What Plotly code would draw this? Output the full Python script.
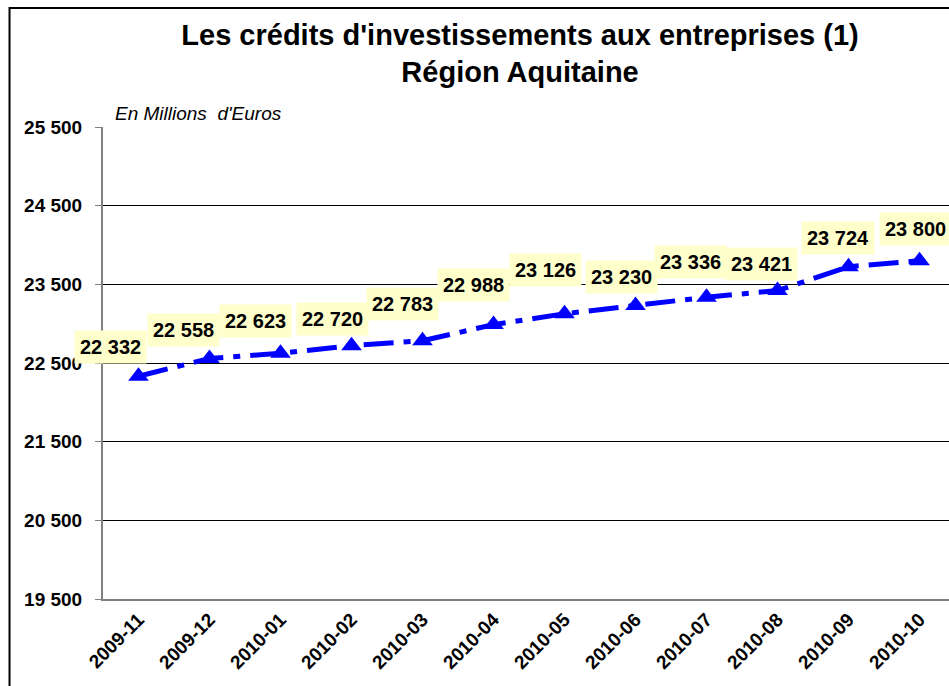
import plotly.graph_objects as go

# ---- data ----
months = ["2009-11", "2009-12", "2010-01", "2010-02", "2010-03", "2010-04",
          "2010-05", "2010-06", "2010-07", "2010-08", "2010-09", "2010-10"]
credits = [22332, 22558, 22623, 22720, 22783, 22988,
           23126, 23230, 23336, 23421, 23724, 23800]
y_ticks = [19500, 20500, 21500, 22500, 23500, 24500, 25500]

title_line1 = "Les crédits d'investissements aux entreprises (1)"
title_line2 = "Région Aquitaine"
unit_text = "En Millions  d'Euros"

# ---- styling (label offsets in px) ----
label_dx = [-28, -26, -25, -19, -20, -20, -19, -14, -16, -16, -11, -4]
label_dy = [29, 28, 32, 27, 37, 40, 44, 29, 35, 27, 29, 32]

FONT = "Liberation Sans, Arial, sans-serif"

fig = go.Figure()
fig.add_trace(go.Scatter(
    x=months, y=credits, mode="lines+markers",
    line=dict(color="#0000FF", width=5, dash="30px,10px,7px,10px"),
    marker=dict(symbol="triangle-up", size=18, color="#0000FF"),
    showlegend=False, cliponaxis=False,
))

fmt = lambda v: f"{v:,}".replace(",", " ")
for i, (m, v) in enumerate(zip(months, credits)):
    fig.add_annotation(
        x=m, y=v, xref="x", yref="y", text=f"<b>{fmt(v)}</b>",
        showarrow=False, xshift=label_dx[i], yshift=label_dy[i],
        bgcolor="#FFFFCC", borderpad=5,
        font=dict(family=FONT, size=20, color="black"),
    )

fig.add_annotation(
    x=0.012, y=1, xref="paper", yref="paper", xanchor="left", yanchor="bottom",
    yshift=1, text=f"<i>{unit_text}</i>", showarrow=False,
    font=dict(family=FONT, size=19, color="black"),
)

# outer chart border
fig.add_shape(type="rect", xref="paper", yref="paper",
              x0=-0.1105, x1=1.2, y0=-0.3, y1=1.252,
              line=dict(color="black", width=2), fillcolor="rgba(0,0,0,0)")

fig.update_layout(
    width=949, height=686,
    margin=dict(l=103, r=0, t=127, b=87),
    paper_bgcolor="white", plot_bgcolor="white",
    separators=", ",
    title=dict(text=f"<b>{title_line1}<br>{title_line2}</b>",
               x=0.548, xanchor="center", y=0.935, yanchor="top",
               font=dict(family=FONT, size=29, color="black")),
    font=dict(family=FONT, color="black"),
    xaxis=dict(
        type="category", range=[-0.5, 11.415],
        tickangle=-45, tickfont=dict(family=FONT, size=19, color="black", weight="bold"),
        showgrid=False, showline=True, linecolor="#808080", linewidth=2,
        ticks="", zeroline=False,
    ),
    yaxis=dict(
        range=[19500, 25500], tickvals=y_ticks, tickformat=",d",
        tickfont=dict(family=FONT, size=19, color="black", weight="bold"),
        showgrid=True, gridcolor="black", gridwidth=1,
        showline=True, linecolor="#808080", linewidth=2,
        ticks="outside", ticklen=6, tickcolor="#808080", ticklabelstandoff=9,
        zeroline=False,
    ),
)

fig.write_html(
    "out.html",
    config={"displayModeBar": False},
    post_script="document.body.style.margin='0';document.body.style.overflow='hidden';",
)
